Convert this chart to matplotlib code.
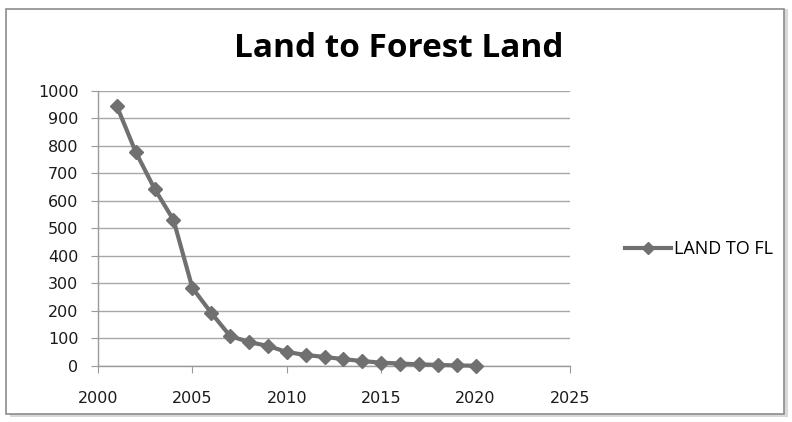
import matplotlib.pyplot as plt
from matplotlib.patches import Rectangle
from matplotlib.lines import Line2D

# Datos
anios = [2001, 2002, 2003, 2004, 2005, 2006, 2007, 2008, 2009, 2010,
         2011, 2012, 2013, 2014, 2015, 2016, 2017, 2018, 2019, 2020]
valores = [945, 778, 644, 531, 284, 193, 109, 87, 73, 51,
           40, 33, 25, 18, 12, 9, 6, 4, 2, 1]
titulo = "Land to Forest Land"
etiqueta_serie = "LAND TO FL"

GRIS = "#707070"

fig = plt.figure(figsize=(7.92, 4.22), dpi=100)

# Marco exterior con sombra
fig.patches.append(Rectangle((0.013, 0.012), 0.982, 0.967, transform=fig.transFigure,
                             facecolor="#d8d8d8", edgecolor="none", zorder=0))
fig.patches.append(Rectangle((0.008, 0.018), 0.982, 0.96, transform=fig.transFigure,
                             facecolor="white", edgecolor="#8c8c8c", linewidth=1.2, zorder=1))

ax = fig.add_axes([0.1237, 0.1327, 0.596, 0.6517])
ax.set_zorder(2)
ax.patch.set_alpha(0)

ax.plot(anios, valores, color=GRIS, linewidth=3, marker="D", markersize=7.5,
        markeredgecolor=GRIS, markerfacecolor=GRIS, clip_on=False, zorder=3)

ax.set_xlim(2000, 2025)
ax.set_ylim(0, 1000)
ax.set_xticks(range(2000, 2026, 5))
ax.set_yticks(range(0, 1001, 100))
ax.grid(axis="y", color="#a8a8a8", linewidth=1)
for lado in ["top", "right"]:
    ax.spines[lado].set_visible(False)
for lado in ["left", "bottom"]:
    ax.spines[lado].set_color("#9a9a9a")
    ax.spines[lado].set_linewidth(1)
ax.tick_params(axis="both", direction="out", length=5, color="#9a9a9a",
               labelsize=11.5, labelcolor="#1a1a1a")
ax.tick_params(axis="x", pad=13)
ax.tick_params(axis="y", pad=9)

fig.text(0.503, 0.886, titulo, ha="center", va="center", fontsize=24,
         fontweight="bold", family="Open Sans", color="black")

# Leyenda a la derecha
fig.legend([Line2D([], [], color=GRIS, linewidth=3, marker="D", markersize=6)],
           [etiqueta_serie], loc="center left", bbox_to_anchor=(0.768, 0.41),
           frameon=False, handlelength=2.6, handletextpad=0.15,
           prop={"family": "Open Sans", "size": 13})

fig.savefig("out.png", dpi=100)
